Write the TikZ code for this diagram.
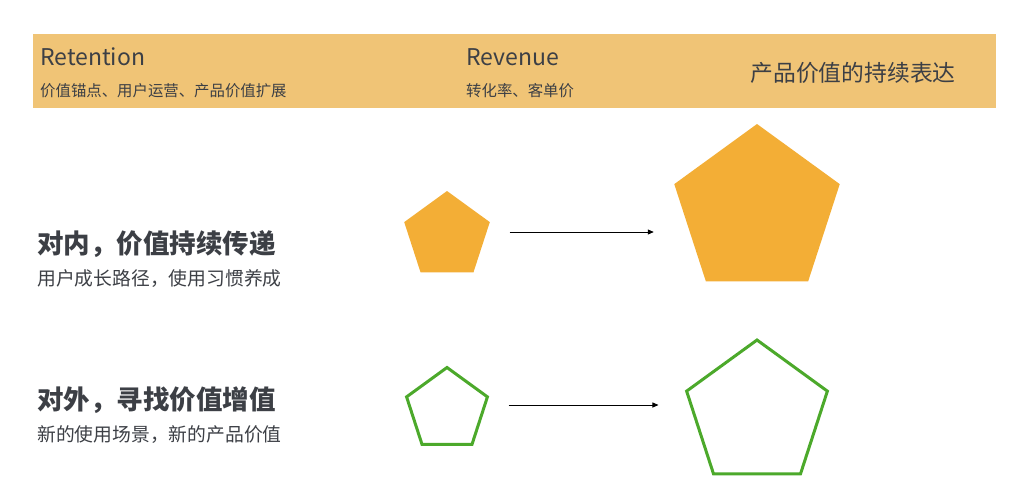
\documentclass[tikz,border=0pt]{standalone}
\usepackage{fontspec}
\setmainfont{Noto Sans CJK SC}
\usepackage{xcolor}
\usetikzlibrary{arrows.meta, shapes.geometric, positioning}

\definecolor{bandcol}{HTML}{F0C476}
\definecolor{pentcol}{HTML}{F3AE36}
\definecolor{growcol}{HTML}{4CA92B}
\definecolor{textcol}{HTML}{3C3F45}

\begin{document}
\begin{tikzpicture}[x=1pt, y=-1pt,
    head/.style={anchor=base west, text=textcol, inner sep=0pt, font=\fontsize{23}{27}\selectfont},
    sub/.style={anchor=base west, text=textcol, inner sep=0pt, font=\fontsize{15.4}{18}\selectfont},
    title/.style={anchor=base west, text=textcol, inner sep=0pt, font=\fontsize{26.5}{31}\selectfont\bfseries},
    note/.style={anchor=base west, text=textcol, inner sep=0pt, font=\fontsize{18.8}{22}\selectfont},
    solid/.style={regular polygon, regular polygon sides=5, inner sep=0pt, fill=pentcol},
    hollow/.style={regular polygon, regular polygon sides=5, inner sep=0pt, draw=growcol, line width=3pt},
    flow/.style={-{Triangle[length=6pt, width=5pt]}, line width=0.8pt, shorten <=24pt}]

    \useasboundingbox (0,0) rectangle (1024,491);
    \fill[bandcol] (33,34) rectangle (996,108);

    \node[head] (ret) at (40,65) {Retention};
    \node[sub] (retsub) at (40,96) {价值锚点、用户运营、产品价值扩展};
    \node[head] (rev) at (466,65) {Revenue};
    \node[sub] (revsub) at (466,96) {转化率、客单价};
    \node[text=textcol, font=\fontsize{22.8}{27}\selectfont] (expr) at (853,73) {产品价值的持续表达};

    \node[title] (inner) at (37,253) {对内，价值持续传递};
    \node[note] (innersub) at (37,285) {用户成长路径，使用习惯养成};
    \node[title] (outer) at (37,409) {对外，寻找价值增值};
    \node[note] (outersub) at (37,441) {新的使用场景，新的产品价值};

    \node[solid, minimum size=90pt] (a1) at (447,236) {};
    \node[solid, minimum size=174pt] (a2) at (757,211) {};
    \node[hollow, minimum size=85pt] (b1) at (447,410) {};
    \node[hollow, minimum size=148pt] (b2) at (757,414) {};

    \draw[flow, shorten >=29pt] (a1.east |- 0,232) -- (a2.west |- 0,232);
    \draw[flow, shorten >=34pt] (b1.east |- 0,405) -- (b2.west |- 0,405);

\end{tikzpicture}
\end{document}
